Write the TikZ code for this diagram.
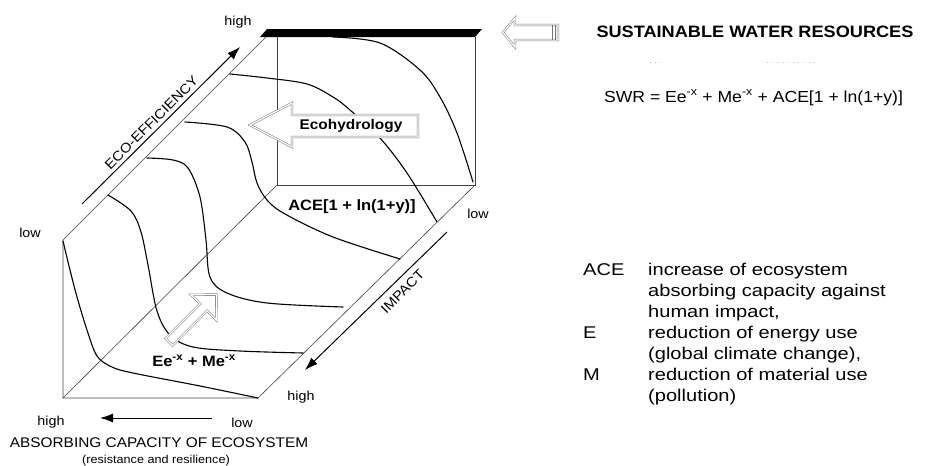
\documentclass[tikz,border=0pt]{standalone}
\usepackage{fontspec}
\setmainfont{Liberation Sans}[FakeStretch=1.1]
\newfontfamily\legfont{Liberation Sans}[FakeStretch=1.18]
\usetikzlibrary{arrows.meta}
\begin{document}
\begin{tikzpicture}[x=1pt,y=-1pt,
  edge/.style={line width=0.6pt, black!75},
  curve/.style={line width=1.1pt, line join=round, line cap=round},
  axisarrow/.style={line width=1pt, -{Latex[length=13pt,width=9pt]}},
  hollow/.style={draw=black!50, double=white, double distance=1.2pt, line width=0.55pt, fill=white, line join=miter},
  lbl/.style={inner sep=0pt, font=\fontsize{13}{15}\selectfont},
  axlbl/.style={inner sep=0pt, font=\fontsize{13.5}{15}\selectfont},
  boldlbl/.style={inner sep=0pt, font=\fontsize{15}{17}\selectfont\bfseries},
  legtext/.style={inner sep=0pt, anchor=base west, font=\legfont\fontsize{17}{21}\selectfont}
]
\useasboundingbox (0,0) rectangle (927,466);

% box corners
\coordinate (TLb) at (266,37);
\coordinate (FL)  at (63,240);
\coordinate (FLb) at (63,398);
\coordinate (FRb) at (258,398);
\coordinate (BL)  at (277,37);
\coordinate (BR)  at (475,37);
\coordinate (BLb) at (277,185);
\coordinate (BRb) at (475,185);

\draw[edge] (FL) -- (TLb);
\draw[edge] (FL) -- (FLb) -- (FRb) -- (BRb);
\draw[edge] (BL) -- (BLb) -- (BRb) -- (BR);
\draw[edge] (FLb) -- (BLb);

% curves
\draw[curve] plot[smooth, tension=0.55] coordinates {(333,37) (380,43) (420,70) (440,97) (457,133) (473,182)};
\draw[curve] plot[smooth, tension=0.55] coordinates {(230,74) (267,78) (307,84) (333,97) (350,110) (380,138) (407,173) (437,222)};
\draw[curve] plot[smooth, tension=0.55] coordinates {(185,122) (227,127) (245,142) (252,162) (257,183) (267,200) (285,214) (333,237) (400,259)};
\draw[curve] plot[smooth, tension=0.55] coordinates {(147,158) (173,160) (188,168) (200,197) (206,240) (210,277) (227,293) (267,303) (343,307)};
\draw[curve] plot[smooth, tension=0.55] coordinates {(108,195) (131,211) (141,232) (148,265) (157,311) (170,335) (193,347) (240,351) (303,353)};
\draw[curve] plot[smooth, tension=0.55] coordinates {(63,241) (70,270) (77,297) (87,330) (97,356) (112,367) (133,373) (200,386) (258,398)};

% black bar
\fill (260,37) -- (267,29) -- (482,29) -- (475,37) -- cycle;

% axis arrows
\coordinate (eco0) at (82,204);
\coordinate (eco1) at (240,47);
\draw[axisarrow] (eco0) -- (eco1);
\coordinate (imp0) at (447,232);
\coordinate (imp1) at (305,370);
\draw[axisarrow] (imp0) -- (imp1);
\coordinate (abs0) at (212,418);
\coordinate (abs1) at (100,418);
\draw[axisarrow] (abs0) -- (abs1);

% hollow arrows
\draw[hollow] (250,125) -- (292,103) -- (292,115) -- (418,115) -- (418,137) -- (292,137) -- (292,147) -- cycle;
\draw[hollow] (165.5,338.5) -- (200.1,303.9) -- (190.9,294.7) -- (216.4,294.6) -- (216.3,320.1) -- (207.1,310.9) -- (172.5,345.5) -- cycle;
\draw[hollow] (503,32.5) -- (515,18) -- (515,25) -- (558,25) -- (558,40) -- (515,40) -- (515,47) -- cycle;
\draw[black!55, line width=0.5pt] (552,25) -- (552,40) (555,25) -- (555,40);

% faint dots
\draw[black!25, line width=0.6pt, dash pattern=on 0.7pt off 4.5pt] (650,62) -- (662,62) (767,62) -- (815,62);

% labels on the chart
\node[lbl, anchor=base] (hightop) at (238,25) {high};
\node[lbl, anchor=base] (lowleft) at (30,237) {low};
\node[lbl, anchor=base] (lowright) at (478,218) {low};
\node[lbl, anchor=base] (highright) at (301,400) {high};
\node[lbl, anchor=base] (highbot) at (51,425) {high};
\node[lbl, anchor=base] (lowbot) at (242,427) {low};
\node[inner sep=0pt, anchor=base, font=\fontsize{14}{16}\selectfont] (absorb) at (159,447) {ABSORBING CAPACITY OF ECOSYSTEM};
\node[inner sep=0pt, anchor=base, font=\fontsize{11.5}{13}\selectfont] (resil) at (156,463) {(resistance and resilience)};
\node[axlbl, rotate=45] (ecoeff) at (151.5,122.5) {ECO-EFFICIENCY};
\node[axlbl, rotate=45] (impact) at (402.5,291.5) {IMPACT};

\node[inner sep=0pt, font=\fontsize{14}{16}\selectfont\bfseries] (ecohyd) at (351,126) {Ecohydrology};
\node[boldlbl, anchor=base] (acelbl) at (352,210) {ACE[1 + ln(1+y)]};
\node[boldlbl, anchor=base] (eelbl) at (194,366) {Ee\textsuperscript{-x} + Me\textsuperscript{-x}};

% right side texts
\node[inner sep=0pt, anchor=base, font=\fontsize{16.5}{18}\selectfont\bfseries] (swrhead) at (755,37) {SUSTAINABLE WATER RESOURCES};
\node[inner sep=0pt, anchor=base, font=\fontsize{16}{18}\selectfont] (swrform) at (753.5,102) {SWR = Ee\textsuperscript{-x} + Me\textsuperscript{-x} + ACE[1 + ln(1+y)]};

\node[legtext] (kace) at (583,275) {ACE};
\node[legtext] (ke) at (583,338) {E};
\node[legtext] (km) at (583,380) {M};
\node[legtext] (l1) at (648,275) {increase of ecosystem};
\node[legtext] (l2) at (648,296) {absorbing capacity against};
\node[legtext] (l3) at (648,317) {human impact,};
\node[legtext] (l4) at (648,338) {reduction of energy use};
\node[legtext] (l5) at (648,359) {(global climate change),};
\node[legtext] (l6) at (648,380) {reduction of material use};
\node[legtext] (l7) at (648,401) {(pollution)};
\end{tikzpicture}
\end{document}
